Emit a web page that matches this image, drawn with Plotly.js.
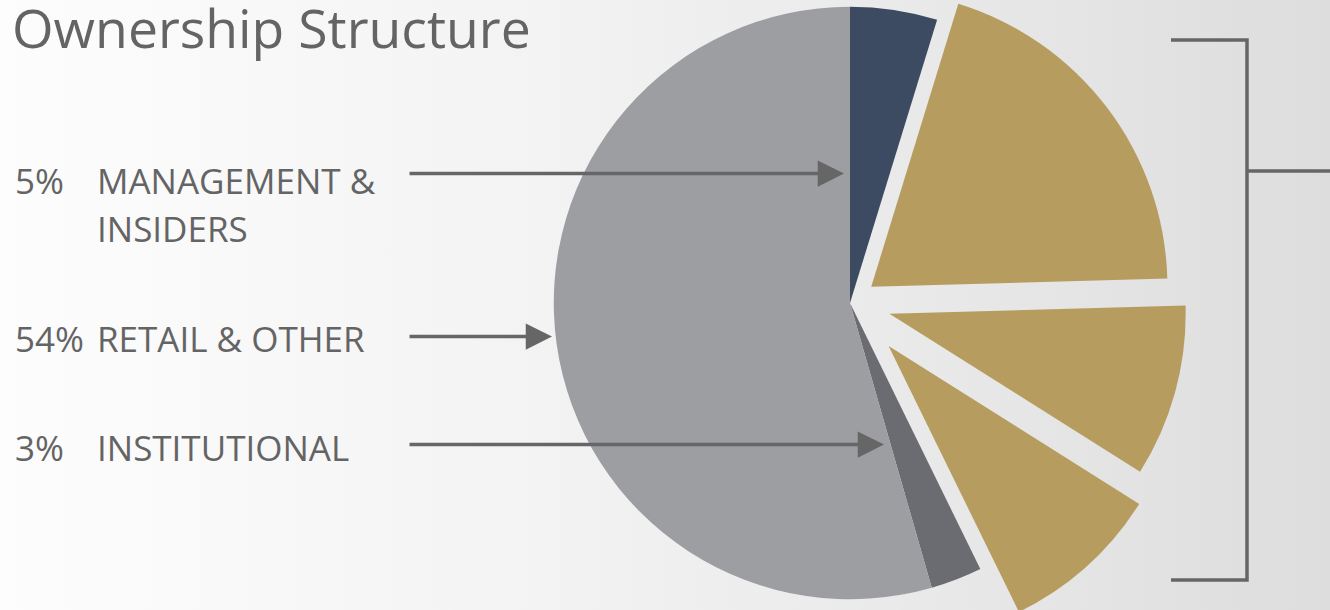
<!DOCTYPE html>
<html>
<head>
<meta charset="utf-8">
<script src="https://cdn.plot.ly/plotly-3.0.1.min.js"></script>
<style>
  html, body { margin:0; padding:0; width:1330px; height:610px; overflow:hidden;
    background: linear-gradient(to right, #fdfdfd 0%, #f3f3f3 40%, #e8e8e8 72%, #dddddd 100%); }
  #chart { position:absolute; left:0; top:-51px; width:1330px; height:708px; }
</style>
</head>
<body>
<div id="chart"></div>
<script>
// ---- data ----
const sliceLabels = ['Management & Insiders', 'Holder A', 'Holder B', 'Holder C', 'Institutional', 'Retail & Other'];
const sliceValues = [4.75, 19.8, 9.4, 8.8, 2.8, 54.45];
const sliceColors = ['#3c4b61', '#b69c5e', '#b69c5e', '#b69c5e', '#6b6c71', '#9d9ea2'];
const pctLabels = ['5%', '54%', '3%'];
const nameLabels = [['MANAGEMENT &', 'INSIDERS'], ['RETAIL & OTHER'], ['INSTITUTIONAL']];
const titleText = 'Ownership Structure';

// ---- layout helpers (window pixel -> paper fraction) ----
const W = 1330, H = 708, T = -51;
const fx = x => x / W;
const fy = y => 1 - (y - T) / H;

const textColor = '#646464';
const lineColor = '#666666';
const FONT = '"Open Sans", "Noto Sans", sans-serif';

const trace = {
  type: 'pie',
  labels: sliceLabels,
  values: sliceValues,
  marker: { colors: sliceColors, line: { width: 0 } },
  pull: [0, 0.09, 0.138, 0.195, 0, 0],
  sort: false,
  direction: 'clockwise',
  rotation: 0,
  textinfo: 'none',
  hoverinfo: 'label+percent',
  showlegend: false,
  domain: { x: [fx(850 - 354), fx(850 + 354)], y: [0, 1] }
};

// label rows: cap-centre y positions and arrow geometry
const rowY = [180.5, 338, 447];
const arrowY = [173.5, 336.5, 444.5];
const arrowTipX = [844, 552, 884];
const arrowTailX = 408;

const annotations = [];
pctLabels.forEach((p, i) => {
  annotations.push({
    xref: 'paper', yref: 'paper', x: fx(12.5), y: fy(rowY[i]),
    xanchor: 'left', yanchor: 'middle', text: p, showarrow: false,
    font: { family: FONT, size: 35, color: textColor }
  });
  nameLabels[i].forEach((line, j) => {
    annotations.push({
      xref: 'paper', yref: 'paper', x: fx(95), y: fy(rowY[i] + j * 48),
      xanchor: 'left', yanchor: 'middle', text: line, showarrow: false,
      font: { family: FONT, size: 35, color: textColor }
    });
  });
  annotations.push({
    xref: 'paper', yref: 'paper', x: fx(arrowTipX[i]), y: fy(arrowY[i]),
    axref: 'pixel', ayref: 'pixel', ax: arrowTailX - arrowTipX[i], ay: 0,
    text: '', showarrow: true, arrowhead: 2, arrowsize: 1.5, arrowwidth: 3.5,
    arrowcolor: lineColor, standoff: 0
  });
});

const shapes = [
  { type: 'path', xref: 'paper', yref: 'paper',
    path: `M ${fx(1171)} ${fy(40)} L ${fx(1247)} ${fy(40)} L ${fx(1247)} ${fy(580)} L ${fx(1171)} ${fy(580)}`,
    line: { color: lineColor, width: 3.5 } },
  { type: 'line', xref: 'paper', yref: 'paper',
    x0: fx(1247), x1: 1, y0: fy(171), y1: fy(171),
    line: { color: lineColor, width: 3.5 } }
];

const layout = {
  width: W, height: H,
  margin: { l: 0, r: 0, t: 0, b: 0 },
  paper_bgcolor: 'rgba(0,0,0,0)',
  plot_bgcolor: 'rgba(0,0,0,0)',
  title: {
    text: titleText,
    xref: 'container', yref: 'container',
    x: fx(12), xanchor: 'left',
    y: fy(29.5), yanchor: 'middle',
    font: { family: FONT, size: 53.5, color: textColor }
  },
  annotations: annotations,
  shapes: shapes,
  showlegend: false
};

Plotly.newPlot('chart', [trace], layout, { displayModeBar: false, responsive: false });
</script>
</body>
</html>
